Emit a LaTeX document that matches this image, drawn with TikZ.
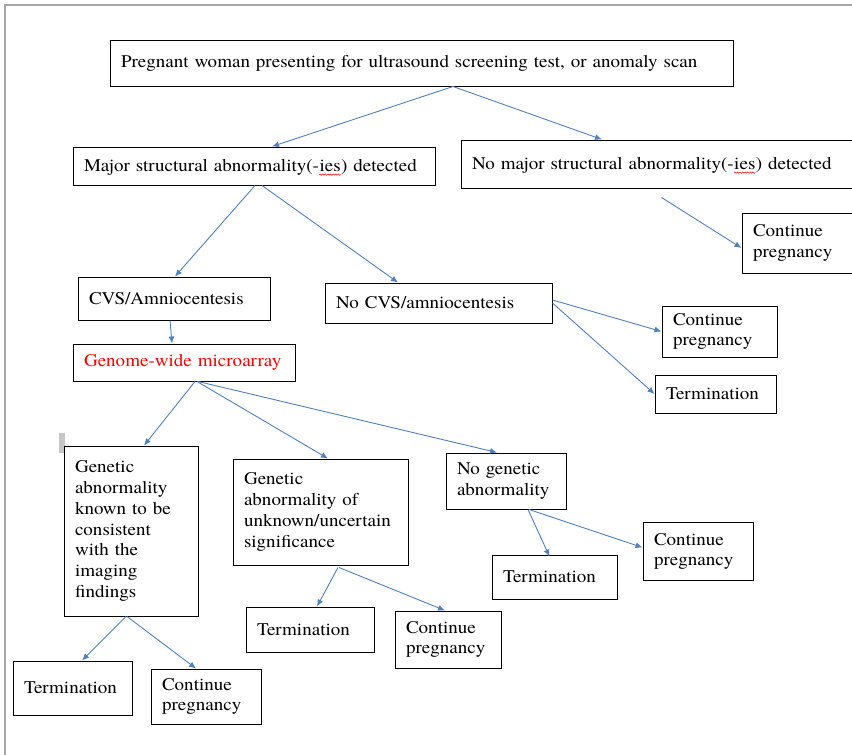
\documentclass[tikz,border=0pt]{standalone}
\usepackage{fontspec}
\setmainfont{texgyretermes}[Extension=.otf, UprightFont=*-regular, BoldFont=*-bold, ItalicFont=*-italic, FakeStretch=1.07]
\usetikzlibrary{arrows.meta,decorations.pathmorphing}
\definecolor{linkblue}{RGB}{79,129,189}
\newcommand{\spellwave}[1]{\tikz[baseline=(sw.base)]{\node[inner sep=0pt, draw=none] (sw) {#1};
    \draw[red, line width=0.5pt, decorate, decoration={snake, amplitude=0.7pt, segment length=2.6pt}]
        ([yshift=-3pt]sw.base west) -- ([yshift=-3pt]sw.base east);}}
\begin{document}
\begin{tikzpicture}[x=1pt, y=-1pt,
    box/.style={draw, line width=1pt, rectangle, align=left, inner xsep=11pt, inner ysep=0pt,
        font=\rmfamily\fontsize{17.8}{20.8}\selectfont},
    link/.style={draw=linkblue, line width=0.9pt, -{Latex[length=7pt,width=6pt]}}]
                \useasboundingbox (0,0) rectangle (852,755);
                \draw[gray!70, line width=1.5pt] (5,755) -- (5,5) -- (852,5);
                \fill[gray!45] (59,433) rectangle (65,453);

                \node[box, text width=601, minimum height=46] at (421.5, 63) (top) {Pregnant woman presenting for ultrasound screening test, or anomaly scan};
                \node[box, text width=340, minimum height=38] at (254, 166) (major) {Major structural abnormality(-\spellwave{ies}) detected};
                \node[box, text width=379, minimum height=48] at (661.5, 164) (nomajor) {No major structural abnormality(-\spellwave{ies}) detected};
                \node[box, text width=98, minimum height=60] at (802, 243) (contTR) {Continue\\pregnancy};

                \node[box, text width=170, minimum height=43] at (174, 298.5) (cvs) {CVS/Amniocentesis};
                \node[box, text width=205, minimum height=40] at (438.5, 303) (nocvs) {No CVS/amniocentesis};
                \node[box, text width=93, minimum height=51] at (719.5, 331.5) (contMid) {Continue\\pregnancy};
                \node[box, text width=99, minimum height=38] at (715.5, 394) (termMid) {Termination};
                \node[box, text width=200, minimum height=37, text=red] at (184, 362.5) (genome) {Genome-wide microarray};

                \node[box, text width=112, minimum height=170] at (131, 531) (known) {Genetic\\abnormality\\known to be\\consistent\\with the\\imaging\\findings};
                \node[box, text width=153, minimum height=106] at (320.5, 512) (unknown) {Genetic\\abnormality of\\unknown/uncertain\\significance\\[8pt]};
                \node[box, text width=98, minimum height=56] at (506, 481) (nogen) {No genetic\\abnormality};

                \node[box, text width=103, minimum height=44] at (554.5, 577) (termNG) {Termination};
                \node[box, text width=88, minimum height=58] at (698, 551.5) (contNG) {Continue\\pregnancy};
                \node[box, text width=106, minimum height=45] at (310, 629.5) (termUK) {Termination};
                \node[box, text width=84, minimum height=57] at (448, 639.5) (contUK) {Continue\\pregnancy};
                \node[box, text width=97, minimum height=54] at (72.5, 688) (termBL) {Termination\\[8pt]};
                \node[box, text width=88, minimum height=55] at (206, 696.5) (contBL) {Continue\\pregnancy};

            \draw[link] ([xshift=31.5pt]top.south) -- ([xshift=18pt]major.north);
            \draw[link] ([xshift=31.5pt]top.south) -- ([xshift=-59.5pt]nomajor.north);
            \draw[link] ([xshift=1pt]major.south) -- ([xshift=1pt]cvs.north);
            \draw[link] ([xshift=8pt]major.south) -- ([xshift=-40.5pt]nocvs.north);
            \draw[link] ([yshift=-9pt]nomajor.south) -- ([yshift=-5pt]contTR.west);

            \draw[link] ([xshift=-4pt]cvs.south) -- ([xshift=-12pt]genome.north);
            \draw[link] ([yshift=3pt]nocvs.east) -- (contMid.west);
            \draw[link] (nocvs.east) -- (termMid.west);

            \draw[link] ([xshift=11pt]genome.south) -- ([xshift=13pt]known.north);
            \draw[link] ([xshift=13pt]genome.south) -- ([xshift=7.5pt]unknown.north);
            \draw[link] ([xshift=14pt]genome.south) -- ([xshift=-9pt]nogen.north);

            \draw[link] ([xshift=-5pt]known.south) -- ([xshift=9.5pt]termBL.north);
            \draw[link] ([xshift=-4pt]known.south) -- ([xshift=-10pt]contBL.north);
            \draw[link] ([xshift=17.5pt,yshift=-2pt]unknown.south) -- ([xshift=7pt]termUK.north);
            \draw[link] ([xshift=18.5pt,yshift=-2pt]unknown.south) -- ([xshift=-3pt]contUK.north);
            \draw[link] ([xshift=22pt]nogen.south) -- ([xshift=-5pt,yshift=-2pt]termNG.north);
            \draw[link] ([xshift=23pt]nogen.south) -- ([yshift=4pt]contNG.west);

            \end{tikzpicture}
\end{document}
